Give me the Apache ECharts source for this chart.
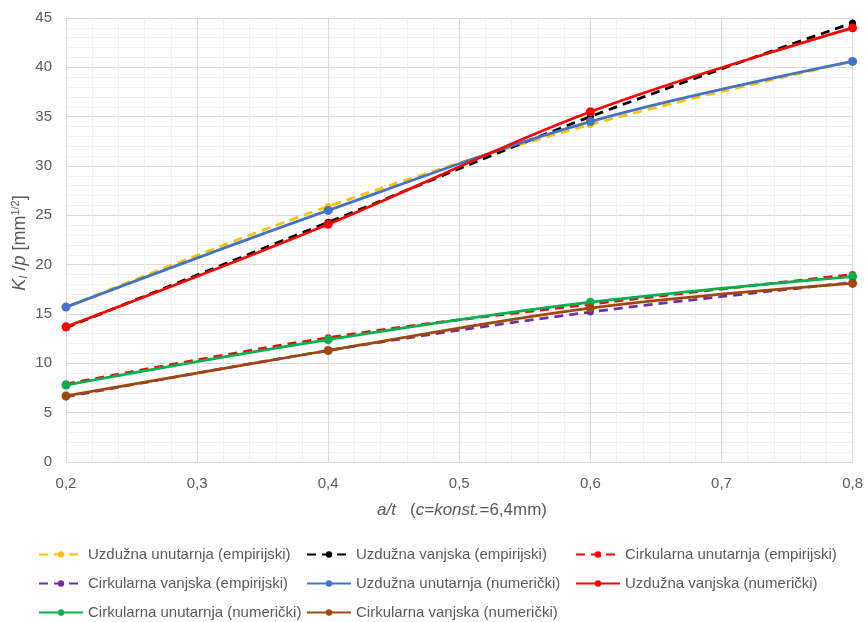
<!DOCTYPE html>
<html><head><meta charset="utf-8">
<script src="https://cdn.jsdelivr.net/npm/echarts@6/dist/echarts.min.js"></script>
<style>html,body{margin:0;padding:0;background:#fff}#c{width:866px;height:622px}</style>
</head><body><div id="c"></div>
<script>
const xValues = [0.2, 0.4, 0.6, 0.8];
const seriesNames = [
  'Uzdužna unutarnja (empirijski)',
  'Uzdužna vanjska (empirijski)',
  'Cirkularna unutarnja (empirijski)',
  'Cirkularna vanjska (empirijski)',
  'Uzdužna unutarnja (numerički)',
  'Uzdužna vanjska (numerički)',
  'Cirkularna unutarnja (numerički)',
  'Cirkularna vanjska (numerički)'
];
const uzdUnutEmp = [15.7, 25.9, 34.2, 40.6];
const uzdVanjEmp = [13.6, 24.3, 35.0, 44.5];
const cirkUnutEmp = [7.9, 12.6, 16.0, 19.0];
const cirkVanjEmp = [6.6, 11.3, 15.2, 18.2];
const uzdUnutNum = [15.7, 25.5, 34.5, 40.6];
const uzdVanjNum = [13.7, 24.1, 35.5, 44.0];
const cirkUnutNum = [7.8, 12.4, 16.2, 18.8];
const cirkVanjNum = [6.7, 11.3, 15.6, 18.1];
const yTicks = [0, 5, 10, 15, 20, 25, 30, 35, 40, 45];

const allData = [uzdUnutEmp, uzdVanjEmp, cirkUnutEmp, cirkVanjEmp, uzdUnutNum, uzdVanjNum, cirkUnutNum, cirkVanjNum];
const colors = ['#FFC000', '#000000', '#FF0000', '#7030A0', '#4472C4', '#FF0000', '#00B050', '#9E480E'];
const dashed = [true, true, true, true, false, false, false, false];

const FONT = '"Liberation Sans", sans-serif';

const series = seriesNames.map((n, i) => ({
  name: n,
  type: 'line',
  smooth: 0.35,
  data: xValues.map((x, j) => [x, allData[i][j]]),
  symbol: 'circle',
  symbolSize: dashed[i] ? 7 : 9,
  showSymbol: true,
  lineStyle: { color: colors[i], width: 2.75, type: dashed[i] ? [9, 6] : 'solid' },
  itemStyle: { color: colors[i] },
  z: dashed[i] ? 2 : 3
}));

// legend positions (left, top) per item
const legPos = [
  [38, 547], [306, 547], [575, 547],
  [38, 576], [306, 576], [575, 576],
  [38, 605], [306, 605]
];
const legends = seriesNames.map((n, i) => ({
  data: [n],
  left: legPos[i][0],
  top: legPos[i][1],
  orient: 'horizontal',
  itemWidth: 44,
  itemHeight: 8,
  itemGap: 0,
  padding: 0,
  selectedMode: false,
  textStyle: { fontFamily: FONT, fontSize: 15, color: '#595959' }
}));

const chart = echarts.init(document.getElementById('c'), null, { renderer: 'canvas' });
chart.setOption({
  animation: false,
  backgroundColor: '#fff',
  grid: { left: 66, right: 10, top: 18, bottom: 160 },
  legend: legends,
  xAxis: {
    type: 'value', min: 0.2, max: 0.8, interval: 0.1,
    axisLine: { show: true, lineStyle: { color: '#d9d9d9', width: 1 } },
    axisTick: { show: false },
    axisLabel: { color: '#595959', fontFamily: FONT, fontSize: 15, margin: 14,
      formatter: v => v.toFixed(1).replace('.', ',') },
    splitLine: { show: true, lineStyle: { color: '#d9d9d9', width: 1 } },
    minorTick: { show: false, splitNumber: 5 },
    minorSplitLine: { show: true, lineStyle: { color: '#f0f0f0', width: 1 } }
  },
  yAxis: {
    type: 'value', min: yTicks[0], max: yTicks[yTicks.length - 1], interval: 5,
    axisLine: { show: false },
    axisTick: { show: false },
    axisLabel: { color: '#595959', fontFamily: FONT, fontSize: 15, margin: 14 },
    splitLine: { show: true, lineStyle: { color: '#d9d9d9', width: 1 } },
    minorTick: { show: false, splitNumber: 5 },
    minorSplitLine: { show: true, lineStyle: { color: '#f0f0f0', width: 1 } }
  },
  graphic: [
    {
      type: 'text', x: 20, y: 243, rotation: Math.PI / 2,
      style: {
        text: '{i|K}{s|I}{n| /}{i|p}{n| [mm}{p|1/2}{n|]}',
        align: 'center', verticalAlign: 'middle',
        rich: {
          i: { fontFamily: FONT, fontSize: 18, fontStyle: 'italic', fill: '#595959' },
          n: { fontFamily: FONT, fontSize: 18, fill: '#595959' },
          s: { fontFamily: FONT, fontSize: 11, fontStyle: 'italic', fill: '#595959', verticalAlign: 'bottom', padding: [8, 0, 0, 0] },
          p: { fontFamily: FONT, fontSize: 11, fill: '#595959', verticalAlign: 'top', padding: [0, 0, 8, 0] }
        }
      }
    },
    {
      type: 'text', x: 462, y: 510,
      style: {
        text: '{i|a/t}{n|   (}{i|c=konst.}{n|=6,4mm)}',
        align: 'center', verticalAlign: 'middle',
        rich: {
          i: { fontFamily: FONT, fontSize: 17, fontStyle: 'italic', fill: '#595959' },
          n: { fontFamily: FONT, fontSize: 17, fill: '#595959' }
        }
      }
    }
  ],
  series: series
});
</script></body></html>
